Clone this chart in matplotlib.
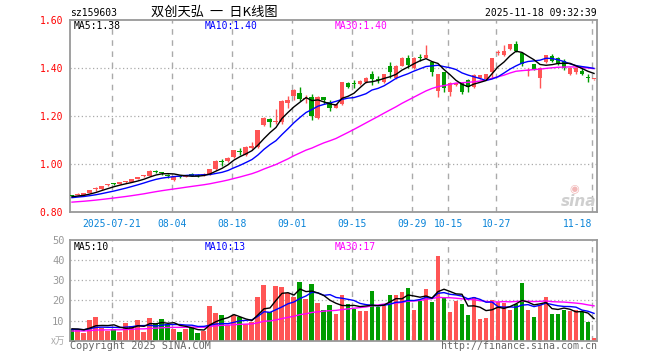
import matplotlib
matplotlib.use('Agg')
import matplotlib.pyplot as plt
import numpy as np

# ---------------- data ----------------
tick_labels = ['2025-07-21', '08-04', '08-18', '09-01', '09-15', '09-29', '10-15', '10-27', '11-18']
tick_index = [7, 17, 27, 37, 47, 57, 63, 71, 87]

opens = [0.870, 0.873, 0.874, 0.882, 0.896, 0.897, 0.914, 0.918, 0.920, 0.925,
         0.928, 0.940, 0.950, 0.952, 0.970, 0.965, 0.953, 0.933, 0.950, 0.949,
         0.961, 0.954, 0.955, 0.958, 0.980, 1.012, 1.014, 1.030, 1.054, 1.039,
         1.068, 1.073, 1.164, 1.189, 1.176, 1.177, 1.254, 1.286, 1.298, 1.272,
         1.282, 1.192, 1.279, 1.261, 1.236, 1.251, 1.337, 1.335, 1.333, 1.342,
         1.376, 1.353, 1.344, 1.411, 1.360, 1.411, 1.444, 1.402, 1.446, 1.444,
         1.427, 1.305, 1.383, 1.302, 1.330, 1.337, 1.351, 1.324, 1.358, 1.355,
         1.383, 1.465, 1.455, 1.480, 1.500, 1.463, 1.388, 1.417, 1.358, 1.425,
         1.450, 1.442, 1.430, 1.375, 1.385, 1.390, 1.360, 1.354]
highs = [0.872, 0.879, 0.879, 0.895, 0.905, 0.911, 0.920, 0.922, 0.928, 0.932,
         0.939, 0.949, 0.955, 0.975, 0.976, 0.970, 0.958, 0.948, 0.952, 0.957,
         0.963, 0.958, 0.962, 0.982, 1.016, 1.024, 1.030, 1.060, 1.066, 1.075,
         1.093, 1.145, 1.196, 1.192, 1.230, 1.266, 1.285, 1.312, 1.323, 1.290,
         1.293, 1.285, 1.282, 1.268, 1.253, 1.344, 1.345, 1.350, 1.350, 1.363,
         1.390, 1.370, 1.377, 1.425, 1.412, 1.446, 1.455, 1.446, 1.460, 1.497,
         1.430, 1.377, 1.386, 1.345, 1.340, 1.340, 1.356, 1.375, 1.374, 1.377,
         1.444, 1.478, 1.497, 1.502, 1.514, 1.465, 1.400, 1.420, 1.404, 1.457,
         1.460, 1.448, 1.437, 1.404, 1.405, 1.400, 1.375, 1.357]
lows = [0.866, 0.871, 0.872, 0.880, 0.888, 0.895, 0.910, 0.912, 0.918, 0.921,
        0.926, 0.938, 0.946, 0.950, 0.962, 0.955, 0.942, 0.930, 0.944, 0.946,
        0.950, 0.948, 0.953, 0.955, 0.978, 0.995, 1.010, 1.025, 1.040, 1.035,
        1.064, 1.068, 1.160, 1.155, 1.168, 1.170, 1.235, 1.270, 1.262, 1.255,
        1.186, 1.190, 1.250, 1.222, 1.233, 1.248, 1.318, 1.320, 1.330, 1.340,
        1.332, 1.338, 1.340, 1.360, 1.355, 1.408, 1.400, 1.398, 1.430, 1.442,
        1.370, 1.282, 1.300, 1.285, 1.326, 1.295, 1.300, 1.316, 1.355, 1.352,
        1.360, 1.455, 1.452, 1.478, 1.468, 1.410, 1.370, 1.394, 1.320, 1.422,
        1.425, 1.412, 1.395, 1.372, 1.375, 1.372, 1.345, 1.353]
closes = [0.868, 0.877, 0.877, 0.893, 0.898, 0.910, 0.916, 0.916, 0.926, 0.927,
          0.937, 0.947, 0.952, 0.973, 0.968, 0.962, 0.950, 0.946, 0.948, 0.955,
          0.952, 0.952, 0.960, 0.980, 1.014, 1.009, 1.027, 1.058, 1.051, 1.073,
          1.075, 1.143, 1.194, 1.175, 1.180, 1.264, 1.268, 1.310, 1.272, 1.276,
          1.201, 1.282, 1.268, 1.233, 1.250, 1.342, 1.323, 1.333, 1.348, 1.361,
          1.355, 1.350, 1.375, 1.383, 1.410, 1.444, 1.414, 1.444, 1.444, 1.455,
          1.383, 1.375, 1.317, 1.337, 1.337, 1.302, 1.324, 1.372, 1.372, 1.375,
          1.442, 1.470, 1.472, 1.500, 1.472, 1.417, 1.392, 1.397, 1.402, 1.455,
          1.430, 1.417, 1.400, 1.402, 1.402, 1.375, 1.358, 1.356]
volumes = [5.8, 5.3, 4.0, 10.3, 11.8, 6.5, 5.0, 5.8, 4.5, 8.9,
           7.5, 10.3, 4.5, 11.3, 8.3, 10.8, 8.3, 6.0, 4.5, 6.0,
           7.0, 4.0, 5.0, 17.4, 13.9, 12.9, 8.0, 12.7, 11.9, 8.4,
           9.3, 21.9, 27.6, 14.1, 27.2, 26.8, 23.5, 21.7, 29.1, 20.8,
           28.1, 18.7, 15.2, 17.7, 13.2, 22.7, 18.2, 15.9, 14.7, 14.7,
           24.7, 16.7, 17.7, 22.7, 22.7, 24.2, 26.2, 15.2, 19.7, 25.7,
           19.2, 42.0, 21.2, 14.2, 19.7, 18.2, 12.7, 21.7, 10.8, 11.3,
           20.2, 19.2, 18.7, 15.2, 18.2, 28.6, 15.2, 11.8, 17.7, 21.7,
           13.2, 13.2, 15.2, 14.7, 15.2, 14.2, 9.3, 1.3]
# earlier sessions (off-chart), only used to start the moving averages
pre_close = [0.820, 0.822, 0.825, 0.823, 0.826, 0.828, 0.827, 0.830, 0.832, 0.831,
             0.834, 0.836, 0.835, 0.838, 0.840, 0.839, 0.842, 0.844, 0.843, 0.846,
             0.850, 0.855, 0.858, 0.860, 0.862, 0.862, 0.864, 0.865, 0.866]
pre_volume = [4.2, 4.5, 4.0, 4.6, 4.3, 4.8, 4.1, 4.4, 4.6, 4.2,
              4.5, 4.3, 4.7, 4.4, 4.2, 4.6, 4.5, 4.3, 4.4, 4.7,
              5.0, 5.6, 5.2, 5.5, 5.2, 5.8, 6.0, 5.9, 6.0]

price_ticks = [0.80, 1.00, 1.20, 1.40, 1.60]
vol_ticks = [10, 20, 30, 40, 50]
ma_price_text = ['MA5:1.38', 'MA10:1.40', 'MA30:1.40']
ma_vol_text = ['MA5:10', 'MA10:13', 'MA30:17']

# ---------------- helpers ----------------
W, H = 660, 360
RED = '#ff5555'
GREEN = '#009c00'
GRID = '#aaaaaa'
SPINE = '#999999'
MONO = 'DejaVu Sans Mono'


def fx(px):
    return px / W


def fy(py):
    return 1 - py / H


def moving_avg(pre, vals, n):
    full = np.array(list(pre) + list(vals), dtype=float)
    off = len(pre)
    return np.array([full[off + i - n + 1: off + i + 1].mean() for i in range(len(vals))])


n = len(closes)
idx = np.arange(n)
o = np.array(opens); c = np.array(closes); h = np.array(highs); l = np.array(lows)
v = np.array(volumes)
up = c >= o
colors = np.where(up, RED, GREEN)

fig = plt.figure(figsize=(6.6, 3.6), dpi=100)
fig.patch.set_facecolor('white')

left, right = 70, 597
ax = fig.add_axes([fx(left), fy(212.3), fx(right - left), (212.3 - 20.3) / H])
axv = fig.add_axes([fx(left), fy(340.7), fx(right - left), (340.7 - 240) / H])

xlim = (-0.33, 87.5)
grid_x = [t - 0.3 for t in tick_index]

for a in (ax, axv):
    a.set_xlim(*xlim)
    for s in a.spines.values():
        s.set_color(SPINE)
        s.set_linewidth(1.3)
    a.tick_params(length=0)
    for gx in grid_x:
        a.axvline(gx, color=GRID, lw=1.0, linestyle=(0, (4, 4)), zorder=0)

# price panel
ax.set_ylim(0.80, 1.60)
for gy in price_ticks[1:-1]:
    ax.axhline(gy, color=GRID, lw=0.9, linestyle=(0, (1, 2)), zorder=0)
ax.set_yticks(price_ticks)
ax.set_yticklabels(['%.2f' % t for t in price_ticks], color='#ff0000',
                   fontsize=7, family=MONO)
ax.tick_params(axis='y', pad=5)
ax.set_xticks(grid_x)
ax.set_xticklabels(tick_labels, color='#0a84d8', fontsize=7, family=MONO)
ax.tick_params(axis='x', pad=5)
lbls = ax.get_xticklabels()
lbls[-1].set_horizontalalignment('right')

bw = 0.83
body_lo = np.minimum(o, c)
body_h = np.maximum(np.abs(c - o), 0.0045)
ax.vlines(idx, l, h, colors=colors, lw=1.0, zorder=2)
ax.bar(idx, body_h, bottom=body_lo, width=bw, color=colors, linewidth=0, zorder=3)

ma5 = moving_avg(pre_close, closes, 5)
ma10 = moving_avg(pre_close, closes, 10)
ma30 = moving_avg(pre_close, closes, 30)
ax.plot(idx, ma30, color='#ff00ff', lw=1.0, zorder=4)
ax.plot(idx, ma10, color='#0000ff', lw=1.0, zorder=5)
ax.plot(idx, ma5, color='black', lw=1.0, zorder=6)

# volume panel
axv.set_ylim(0, 50)
for gy in vol_ticks[:-1]:
    axv.axhline(gy, color=GRID, lw=0.9, linestyle=(0, (1, 2)), zorder=0)
axv.set_yticks(vol_ticks)
axv.set_yticklabels([str(t) for t in vol_ticks], color='#999999', fontsize=7.5, family=MONO)
axv.tick_params(axis='y', pad=4)
axv.set_xticks([])
axv.bar(idx, v, width=bw, color=colors, linewidth=0, zorder=2)
vma5 = moving_avg(pre_volume, volumes, 5)
vma10 = moving_avg(pre_volume, volumes, 10)
vma30 = moving_avg(pre_volume, volumes, 30)
axv.plot(idx, vma30, color='#ff00ff', lw=1.0, zorder=4)
axv.plot(idx, vma10, color='#0000ff', lw=1.0, zorder=5)
axv.plot(idx, vma5, color='black', lw=1.0, zorder=6)

# texts
fig.text(fx(70), fy(12.7), 'sz159603', fontsize=7, family=MONO, color='black', va='center', ha='left')
fig.text(fx(214), fy(12.5), '双创天弘  一  日K线图', fontsize=9.5,
         family=['Noto Sans CJK SC', 'DejaVu Sans'], color='black', va='center', ha='center')
fig.text(fx(597), fy(12.5), '2025-11-18 09:32:39', fontsize=7, family=MONO, color='black',
         va='center', ha='right')

ma_cols = ['black', '#0000ff', '#ff00ff']
ma_x = [74, 204.5, 334.5]
for t, col, xx in zip(ma_price_text, ma_cols, ma_x):
    fig.text(fx(xx), fy(26), t, fontsize=7, family=MONO, color=col, va='center', ha='left')
for t, col, xx in zip(ma_vol_text, ma_cols, ma_x):
    fig.text(fx(xx), fy(246.7), t, fontsize=7, family=MONO, color=col, va='center', ha='left')

fig.text(fx(65), fy(340.5), 'x万', fontsize=7, family=['Noto Sans CJK SC', 'DejaVu Sans'],
         color='#aaaaaa', va='center', ha='right', style='italic')
fig.text(fx(70), fy(346), 'Copyright 2025 SINA.COM', fontsize=7.3, family=MONO,
         color='#666666', va='center', ha='left')
fig.text(fx(597), fy(346), 'http://finance.sina.com.cn', fontsize=7.1, family=MONO,
         color='#666666', va='center', ha='right')

# watermark
fig.text(fx(579), fy(201), 'sina', fontsize=11, family='DejaVu Sans', style='italic',
         weight='bold', color='#cfcfcf', va='center', ha='center')
fig.text(fx(574), fy(189), '◉', fontsize=8, family='DejaVu Sans', color='#f2b8b8',
         va='center', ha='center')

fig.savefig('out.png', dpi=100, facecolor='white')
